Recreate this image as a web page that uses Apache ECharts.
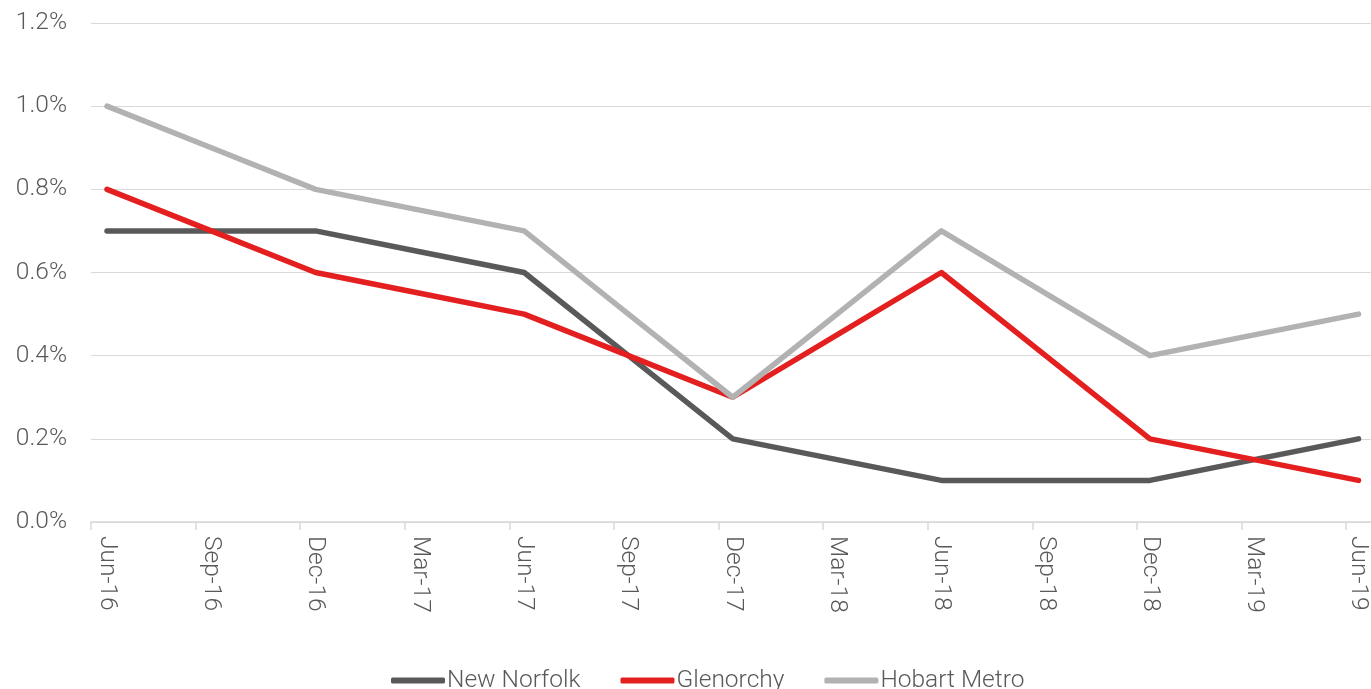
<!DOCTYPE html>
<html>
<head>
    <meta charset="UTF-8">
    <title>Vacancy rates</title>
    <script src="https://cdn.jsdelivr.net/npm/echarts@6/dist/echarts.min.js"></script>
    <style>
        html, body { margin: 0; padding: 0; background: #fff; }
    </style>
</head>
<body>
<div id="chart" style="width:1371px; height:689px;"></div>
<script>
    var quarters = ['Jun-16', 'Sep-16', 'Dec-16', 'Mar-17', 'Jun-17', 'Sep-17', 'Dec-17',
        'Mar-18', 'Jun-18', 'Sep-18', 'Dec-18', 'Mar-19', 'Jun-19'];
    var newNorfolk = [0.7, 0.7, 0.7, 0.65, 0.6, 0.4, 0.2, 0.15, 0.1, 0.1, 0.1, 0.15, 0.2];
    var glenorchy = [0.8, 0.7, 0.6, 0.55, 0.5, 0.4, 0.3, 0.45, 0.6, 0.4, 0.2, 0.15, 0.1];
    var hobartMetro = [1.0, 0.9, 0.8, 0.75, 0.7, 0.5, 0.3, 0.5, 0.7, 0.55, 0.4, 0.45, 0.5];
    var yTicks = [0, 0.2, 0.4, 0.6, 0.8, 1.0, 1.2];

    var font = 'Roboto';
    var textColor = '#595959';
    var gridColor = '#d9d9d9';

    var chart = echarts.init(document.getElementById('chart'), null, {renderer: 'canvas'});

    function line(name, data, color) {
        return {
            name: name,
            type: 'line',
            xAxisIndex: 1,
            yAxisIndex: 1,
            data: data,
            symbol: 'none',
            lineStyle: {color: color, width: 5.5, cap: 'round', join: 'round'},
            itemStyle: {color: color}
        };
    }

    chart.setOption({
        animation: false,
        textStyle: {fontFamily: font},
        legend: {
            bottom: -9,
            left: 386,
            icon: 'roundRect',
            itemWidth: 54,
            itemHeight: 6,
            itemGap: 40,
            textStyle: {fontFamily: font, fontWeight: 300, fontSize: 24.5, color: textColor, padding: [0, 0, 0, -3]},
            data: ['New Norfolk', 'Glenorchy', 'Hobart Metro']
        },
        grid: [
            {left: 91, right: 0, top: 23, bottom: 167},
            {left: 107, right: 9, top: 23, bottom: 167},
            {left: 91, right: 25, top: 23, bottom: 167}
        ],
        xAxis: [
            {
                gridIndex: 0, type: 'value', min: 0, max: 1,
                axisLine: {show: true, lineStyle: {color: gridColor, width: 1.5}},
                axisTick: {show: false}, axisLabel: {show: false}, splitLine: {show: false}
            },
            {
                gridIndex: 1, type: 'category', data: quarters, boundaryGap: false,
                axisLine: {show: false}, axisTick: {show: false}, splitLine: {show: false},
                axisLabel: {
                    rotate: -90, margin: 14, interval: 0,
                    fontFamily: font, fontWeight: 300, fontSize: 24.5, color: textColor
                }
            },
            {
                gridIndex: 2, type: 'category', data: quarters, boundaryGap: false,
                axisLine: {show: false}, axisLabel: {show: false}, splitLine: {show: false},
                axisTick: {show: true, length: 8, interval: 0, lineStyle: {color: gridColor, width: 1.5}}
            }
        ],
        yAxis: [
            {
                gridIndex: 0, type: 'value', min: yTicks[0], max: yTicks[yTicks.length - 1], interval: 0.2,
                axisLine: {show: false}, axisTick: {show: false},
                axisLabel: {
                    margin: 24, fontFamily: font, fontWeight: 300, fontSize: 24.5, color: textColor,
                    formatter: function (v) { return v.toFixed(1) + '%'; }
                },
                splitLine: {lineStyle: {color: gridColor, width: 1}}
            },
            {gridIndex: 1, type: 'value', min: 0, max: 1.2, show: false, splitLine: {show: false}},
            {gridIndex: 2, type: 'value', min: 0, max: 1.2, show: false, splitLine: {show: false}}
        ],
        series: [
            line('New Norfolk', newNorfolk, '#595959'),
            line('Glenorchy', glenorchy, '#e3201f'),
            line('Hobart Metro', hobartMetro, '#b2b2b2')
        ]
    });
</script>
</body>
</html>
